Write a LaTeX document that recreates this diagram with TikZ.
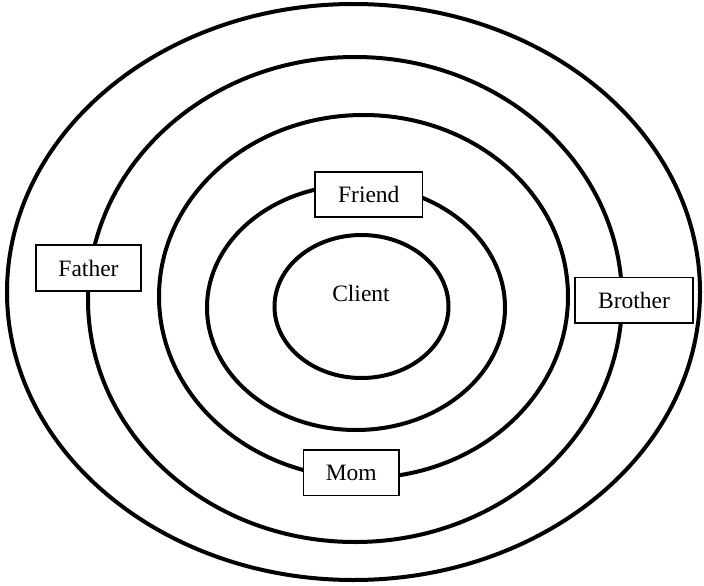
\documentclass[tikz,border=0pt]{standalone}
\usepackage{fontspec}
\setmainfont{Liberation Serif}
\begin{document}
\begin{tikzpicture}[x=1pt,y=-1pt,
  ring/.style={line width=4pt},
  label text/.style={font=\fontsize{23.5}{28}\selectfont},
  tag/.style={draw, line width=1.6pt, fill=white, minimum height=45.5pt,
    inner sep=0pt, label text}]
\useasboundingbox (0,0) rectangle (704,586);
% concentric circles of relationships, outermost first
\draw[ring] (353.5,292) ellipse [x radius=346.5pt, y radius=288pt];
\draw[ring] (355,299.5) ellipse [x radius=267pt, y radius=242.5pt];
\draw[ring] (363.5,296.5) ellipse [x radius=204.5pt, y radius=181.5pt];
\draw[ring] (356,307.5) ellipse [x radius=149pt, y radius=122.5pt];
\draw[ring] (361.5,306.5) ellipse [x radius=87pt, y radius=71.5pt];
% labels
\node[label text] (client) at (361,293) {Client};
\node[tag, minimum width=105.5pt] (father) at (88.5,268) {Father};
\node[tag, minimum width=117.5pt] (brother) at (634,300.3) {Brother};
\node[tag, minimum width=107.5pt] (friend) at (368.8,194.5) {Friend};
\node[tag, minimum width=95.5pt] (mom) at (351.3,472.7) {Mom};
\end{tikzpicture}
\end{document}
